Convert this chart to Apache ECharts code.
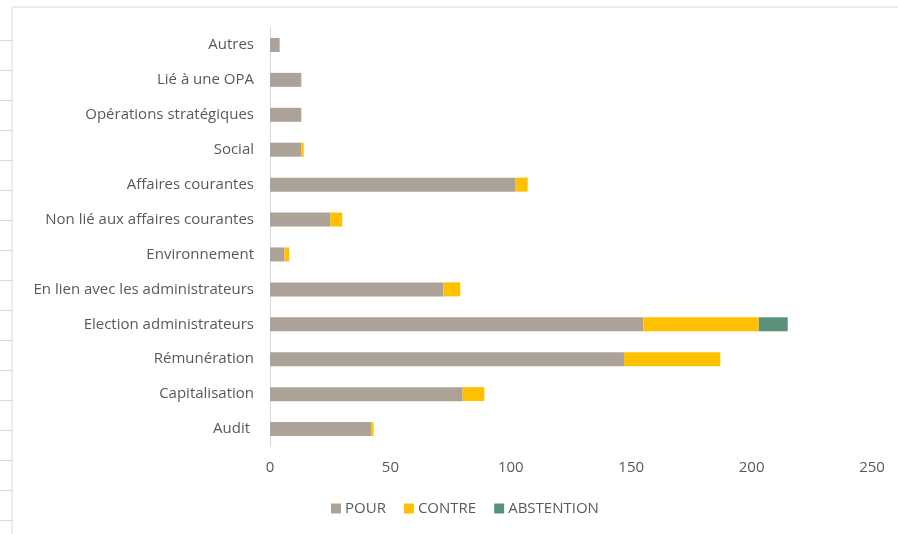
<!DOCTYPE html>
<html>
<head>
<meta charset="utf-8">
<script src="https://cdn.jsdelivr.net/npm/echarts@6/dist/echarts.min.js"></script>
<style>
	html, body { margin: 0; padding: 0; background: #fff; }
	#chart { width: 898px; height: 534px; }
</style>
</head>
<body>
<div id="chart"></div>
<script>
var categories = ["Autres", "Lié à une OPA", "Opérations stratégiques", "Social", "Affaires courantes",
	"Non lié aux affaires courantes", "Environnement", "En lien avec les administrateurs",
	"Election administrateurs", "Rémunération", "Capitalisation", "Audit "];
var pour = [4, 13, 13, 13, 102, 25, 6, 72, 155, 147, 80, 42];
var contre = [0, 0, 0, 1, 5, 5, 2, 7, 48, 40, 9, 1];
var abstention = [0, 0, 0, 0, 0, 0, 0, 0, 12, 0, 0, 0];
var xTicks = [0, 50, 100, 150, 200, 250];

var font = "Open Sans";
var textColor = "#595959";
var frameColor = "#d9d9d9";

// frame of the sheet (left border with small ticks, top border)
function frame_graphics() {
	var g = [
		{ type: "line", shape: { x1: 12, y1: 7, x2: 12, y2: 534 }, style: { stroke: frameColor, lineWidth: 1 } },
		{ type: "line", shape: { x1: 12, y1: 7, x2: 898, y2: 7 }, style: { stroke: frameColor, lineWidth: 1 } }
	];
	for (var y = 40.5; y < 534; y += 30) {
		g.push({ type: "line", shape: { x1: 0, y1: y, x2: 12, y2: y }, style: { stroke: frameColor, lineWidth: 1 } });
	}
	return g;
}

function bar_series(name, data, color) {
	return {
		name: name,
		type: "bar",
		stack: "total",
		barWidth: 14,
		data: data,
		itemStyle: { color: color },
		emphasis: { disabled: true }
	};
}

var mychart = echarts.init(document.getElementById("chart"));
var option = {
	animation: false,
	textStyle: { fontFamily: font },
	graphic: frame_graphics(),
	grid: { left: 270, right: 26, top: 27.5, bottom: 87.5, containLabel: false },
	legend: {
		bottom: 13,
		left: 326,
		itemWidth: 10,
		itemHeight: 10,
		itemGap: 18,
		icon: "rect",
		textStyle: { color: textColor, fontSize: 15, fontFamily: font, padding: [0, 0, 0, -1] },
		data: ["POUR", "CONTRE", "ABSTENTION"]
	},
	xAxis: {
		type: "value",
		min: xTicks[0],
		max: xTicks[xTicks.length - 1],
		interval: 50,
		axisLine: { show: false },
		axisTick: { show: false },
		splitLine: { show: false },
		axisLabel: { color: textColor, fontSize: 15, margin: 14 }
	},
	yAxis: {
		type: "category",
		inverse: true,
		data: categories,
		axisLine: { show: true, lineStyle: { color: frameColor, width: 1 } },
		axisTick: { show: false },
		axisLabel: { color: textColor, fontSize: 15, margin: 16 }
	},
	series: [
		bar_series("POUR", pour, "#ada298"),
		bar_series("CONTRE", contre, "#ffc000"),
		bar_series("ABSTENTION", abstention, "#5a9178")
	]
};
mychart.setOption(option);
</script>
</body>
</html>
